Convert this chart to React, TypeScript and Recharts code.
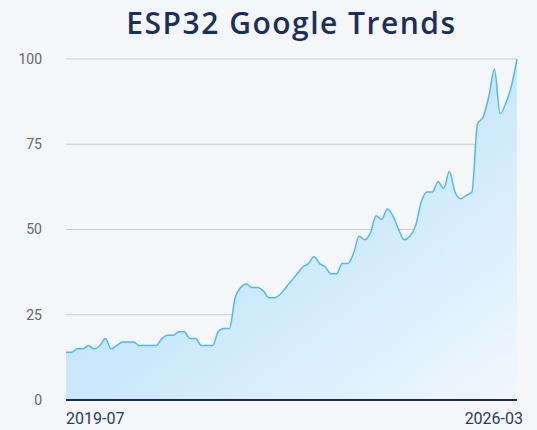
import React from "react";
import { AreaChart, Area, XAxis, YAxis, CartesianGrid } from "recharts";

const START_YEAR = 2019;
const START_MONTH = 7;

// monthly interest, 2019-07 .. 2026-03
const interest = [
  14, 14, 15, 15, 16, 15, 16, 18, 15, 16, 17, 17, 17, 16, 16, 16, 16, 18, 19, 19,
  20, 20, 18, 18, 16, 16, 16, 20, 21, 21, 30, 33, 34, 33, 33, 32, 30, 30, 31, 33,
  35, 37, 39, 40, 42, 40, 39, 37, 37, 40, 40, 43, 48, 47, 49, 54, 53, 56, 54, 50,
  47, 48, 51, 58, 61, 61, 64, 62, 67, 61, 59, 60, 61, 81, 83, 89, 97, 84, 87, 92,
  100,
];

const months = interest.map((_, i) => {
  const m = START_MONTH - 1 + i;
  const y = START_YEAR + Math.floor(m / 12);
  return `${y}-${String((m % 12) + 1).padStart(2, "0")}`;
});

const yTicks = [0, 25, 50, 75, 100];
const xTicks = [months[0], months[months.length - 1]];

const data = months.map((month, i) => ({ month, value: interest[i] }));

const XTick = (props: any) => {
  const { x, y, payload } = props;
  const first = payload.value === xTicks[0];
  return (
    <text
      x={first ? x : x + 6}
      y={y}
      dy="0.71em"
      textAnchor={first ? "start" : "end"}
      fill="#2b3a5c"
      fontSize={16}
      fontFamily="Roboto"
    >
      {payload.value}
    </text>
  );
};

export default function App() {
  return (
    <div style={{ position: "fixed", left: 0, top: 0, width: 537, height: 430, background: "#f5f6f8" }}>
      <div
        style={{
          position: "absolute",
          top: 2,
          left: 66,
          width: 451,
          textAlign: "center",
          fontFamily: "'Open Sans'",
          fontWeight: 600,
          fontSize: 30,
          lineHeight: "normal",
          letterSpacing: 1.5,
          whiteSpace: "nowrap",
          color: "#1c2e5c",
        }}
      >
        ESP32 Google Trends
      </div>
      <AreaChart width={537} height={430} data={data} margin={{ top: 59, right: 20, bottom: 0, left: 0 }}>
        <defs>
          <linearGradient id="fillGrad" x1="0" y1="0" x2="1" y2="1">
            <stop offset="0%" stopColor="#bce2fb" />
            <stop offset="50%" stopColor="#c9e8fb" />
            <stop offset="100%" stopColor="#f1f7fd" />
          </linearGradient>
        </defs>
        <CartesianGrid vertical={false} stroke="#c9cacc" strokeWidth={1} />
        <XAxis
          dataKey="month"
          ticks={xTicks}
          interval={0}
          tick={<XTick />}
          tickLine={false}
          tickSize={0}
          tickMargin={13}
          height={30}
          axisLine={{ stroke: "#1e2a4a", strokeWidth: 2 }}
        />
        <YAxis
          domain={[0, 100]}
          ticks={yTicks}
          width={66}
          axisLine={false}
          tickLine={false}
          tickSize={0}
          tickMargin={24}
          tick={{ fill: "#666", fontSize: 14, fontFamily: "Roboto" }}
        />
        <Area
          type="monotone"
          dataKey="value"
          stroke="#4fb9f7"
          strokeWidth={1.5}
          fill="url(#fillGrad)"
          fillOpacity={1}
          isAnimationActive={false}
        />
      </AreaChart>
    </div>
  );
}
